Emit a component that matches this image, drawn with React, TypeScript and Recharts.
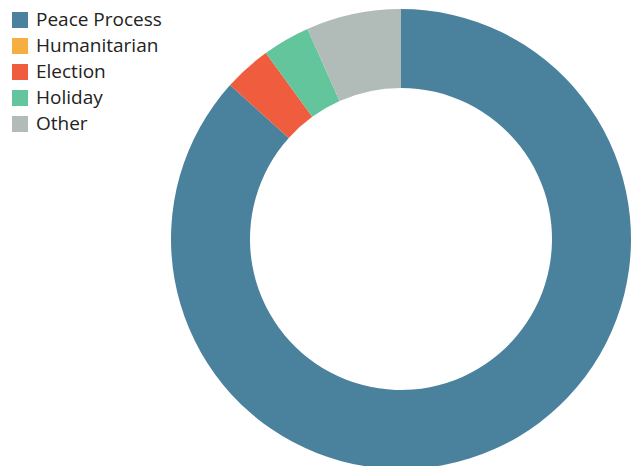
import { PieChart, Pie, Cell } from 'recharts';

const CATEGORIES = ['Peace Process', 'Humanitarian', 'Election', 'Holiday', 'Other'];
const COUNTS = [26, 0, 1, 1, 2];
const COLORS = ['#4a829e', '#f6ae42', '#f05c3e', '#62c59b', '#b1bcb9'];

const data = CATEGORIES.map((name, i) => ({ name, value: COUNTS[i] }));

function LegendBox() {
  return (
    <div
      style={{
        position: 'absolute',
        left: 12,
        top: 7,
        fontFamily: '"Open Sans", sans-serif',
        fontSize: 19,
        color: '#222',
        zIndex: 2,
      }}
    >
      {CATEGORIES.map((name, i) => (
        <div key={name} style={{ display: 'flex', alignItems: 'center', height: 26 }}>
          <span style={{ width: 16, height: 16, backgroundColor: COLORS[i], marginRight: 8, display: 'inline-block' }} />
          <span style={{ lineHeight: '26px', marginTop: -2 }}>{name}</span>
        </div>
      ))}
    </div>
  );
}

export default function App() {
  return (
    <div style={{ position: 'fixed', left: 0, top: 0, width: 631, height: 466, background: '#fff' }}>
      <PieChart width={631} height={466} margin={{ top: 0, right: 0, bottom: 0, left: 0 }}>
        <Pie
          data={data}
          dataKey="value"
          nameKey="name"
          cx={401}
          cy={239}
          innerRadius={151}
          outerRadius={230}
          startAngle={90}
          endAngle={-270}
          stroke="none"
          isAnimationActive={false}
        >
          {data.map((d, i) => (
            <Cell key={d.name} fill={COLORS[i]} />
          ))}
        </Pie>
      </PieChart>
      <LegendBox />
    </div>
  );
}
